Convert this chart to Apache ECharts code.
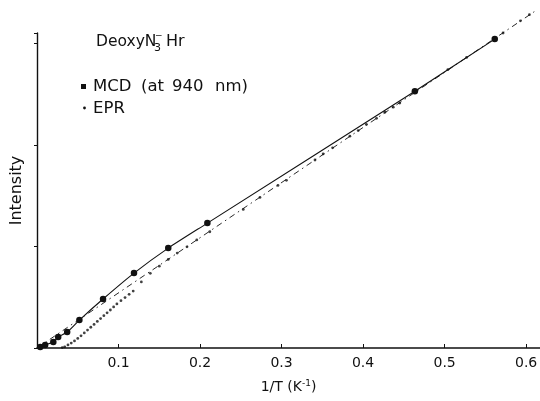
<!DOCTYPE html>
<html>
<head>
<meta charset="utf-8">
<script src="https://cdn.jsdelivr.net/npm/echarts@6/dist/echarts.min.js"></script>
<style>
  html, body { margin: 0; padding: 0; background: #fff; }
  #chart { width: 540px; height: 401px; }
</style>
</head>
<body>
<div id="chart"></div>
<script>
// MCD intensity (at 940 nm) versus reciprocal temperature
const MCD_X = [0.004, 0.010, 0.020, 0.026, 0.037, 0.052, 0.081, 0.119, 0.161, 0.209, 0.4635, 0.5615];
const MCD_Y = [0.010, 0.030, 0.059, 0.108, 0.157, 0.275, 0.482, 0.737, 0.983, 1.229, 2.527, 3.040];

// EPR intensity points
const EPR_X = [0.031, 0.034, 0.038, 0.042, 0.046, 0.050, 0.054, 0.058, 0.062, 0.066, 0.070,
               0.074, 0.078, 0.082, 0.086, 0.090, 0.094, 0.098, 0.103, 0.108, 0.113, 0.118,
               0.128, 0.139, 0.150, 0.161, 0.172, 0.184, 0.196, 0.212, 0.253, 0.2735, 0.2956,
               0.306, 0.341, 0.351, 0.3626, 0.3838, 0.394, 0.404, 0.4165, 0.4267, 0.437, 0.445,
               0.504, 0.527, 0.5717, 0.593, 0.604];
const EPR_Y = [0.004, 0.012, 0.030, 0.048, 0.070, 0.094, 0.120, 0.148, 0.176, 0.204, 0.232,
               0.262, 0.290, 0.318, 0.346, 0.374, 0.404, 0.434, 0.466, 0.496, 0.528, 0.560,
               0.650, 0.735, 0.805, 0.872, 0.934, 0.996, 1.064, 1.144, 1.364, 1.482, 1.600,
               1.650, 1.850, 1.910, 1.970, 2.085, 2.140, 2.200, 2.260, 2.320, 2.370, 2.410,
               2.740, 2.860, 3.100, 3.220, 3.280];

// Straight Curie-law line
const LINE_X = [0, 0.610];
const LINE_Y = [0, 3.310];

// Axis ticks
const X_TICKS = ['0.1', '0.2', '0.3', '0.4', '0.5', '0.6'];

const FONT = 'DejaVu Sans';
const INK = '#111';

const zip = (xs, ys) => xs.map((x, i) => [x, ys[i]]);
const font = size => size + 'px "' + FONT + '"';
const txt = (text, left, top, size) =>
  ({ type: 'text', left: left, top: top, style: { text: text, font: font(size), fill: INK } });

const chart = echarts.init(document.getElementById('chart'), null, { renderer: 'canvas' });

// Title "DeoxyN3-Hr": charge and subscript stacked after the N
const titleGraphics = [
  txt('DeoxyN', 96, 34, 15.5),
  txt('3', 154, 43, 11),
  txt('−', 155, 31, 9),
  txt('Hr', 166, 34, 16)
];

// Legend block, word by word to keep the wide spacing
const legendGraphics = [
  { type: 'rect', shape: { x: 81, y: 84, width: 5, height: 5 }, style: { fill: INK } },
  txt('MCD', 93, 78, 16.5),
  txt('(at', 141, 78, 16.5),
  txt('940', 172, 78, 16.5),
  txt('nm)', 215, 78, 16.5),
  { type: 'circle', shape: { cx: 84.5, cy: 108, r: 1.4 }, style: { fill: INK } },
  txt('EPR', 93, 100, 16.5)
];

chart.setOption({
  animation: false,
  backgroundColor: '#fff',
  grid: { left: 37, right: 0, top: 33, bottom: 53, containLabel: false, outerBoundsMode: 'none' },
  xAxis: {
    type: 'value',
    min: 0, max: 0.617, interval: 0.1,
    name: '1/T (K{sup|-1})',
    nameLocation: 'middle',
    nameGap: 31,
    nameTextStyle: {
      fontFamily: FONT, fontSize: 14, color: INK,
      rich: { sup: { fontFamily: FONT, fontSize: 9, color: INK, verticalAlign: 'top', padding: [0, 0, 8, 0] } }
    },
    axisLine: { show: true, onZero: false, lineStyle: { color: INK, width: 1.6 } },
    axisTick: { show: true, inside: true, length: 4, lineStyle: { color: INK, width: 1 } },
    axisLabel: {
      fontFamily: FONT, fontSize: 14, color: INK, margin: 8,
      showMinLabel: false, showMaxLabel: false, hideOverlap: false,
      formatter: v => {
        const s = v.toFixed(1);
        const onTick = Math.abs(v * 10 - Math.round(v * 10)) < 1e-6;
        return onTick && X_TICKS.indexOf(s) >= 0 ? s : '';
      }
    },
    splitLine: { show: false }
  },
  yAxis: {
    type: 'value',
    min: 0, max: 3.1, interval: 1,
    name: 'Intensity',
    nameLocation: 'middle',
    nameGap: 12,
    nameRotate: 90,
    nameTextStyle: { fontFamily: FONT, fontSize: 16, color: INK },
    axisLine: { show: true, onZero: false, lineStyle: { color: INK, width: 1.4 } },
    axisTick: { show: true, inside: false, length: 3, lineStyle: { color: INK, width: 1 } },
    axisLabel: { show: false },
    splitLine: { show: false }
  },
  series: [
    {
      name: 'Curie line',
      type: 'line',
      data: zip(LINE_X, LINE_Y),
      showSymbol: false,
      clip: false,
      lineStyle: { color: INK, width: 0.9, type: [6, 4, 1.5, 4] },
      z: 1
    },
    {
      name: 'EPR',
      type: 'scatter',
      data: zip(EPR_X, EPR_Y),
      symbol: 'circle',
      symbolSize: 2.8,
      clip: false,
      itemStyle: { color: INK },
      z: 2
    },
    {
      name: 'MCD (at 940 nm)',
      type: 'line',
      data: [[0, 0]].concat(zip(MCD_X, MCD_Y)),
      smooth: 0.25,
      symbol: 'circle',
      symbolSize: (v, p) => (p.dataIndex === 0 ? 0 : 6.5),
      showAllSymbol: true,
      clip: false,
      lineStyle: { color: INK, width: 1.1 },
      itemStyle: { color: INK },
      z: 3
    }
  ],
  graphic: titleGraphics.concat(legendGraphics)
});
</script>
</body>
</html>
